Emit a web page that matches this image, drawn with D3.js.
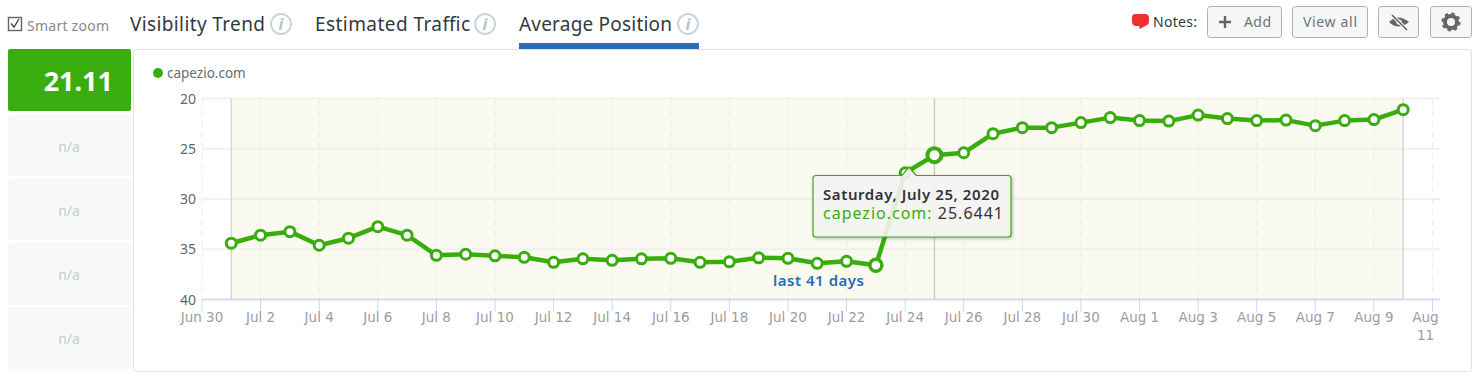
<!DOCTYPE html>
<html><head><meta charset="utf-8">
<script src="https://cdn.jsdelivr.net/npm/d3@7/dist/d3.min.js"></script>
<style>
html,body{margin:0;padding:0;background:#fff;overflow:hidden}
svg{display:block}
text{font-family:"Noto Sans",sans-serif}
.tick-label{font-family:"DejaVu Sans",sans-serif;font-size:13.5px;fill:#9c9ca2}
</style></head><body>
<svg id="c" width="1482" height="379"></svg>
<script>
const siteName = "capezio.com";
const startDate = "2020-07-01";
const positions = [34.4,33.6,33.25,34.6,33.9,32.75,33.6,35.6,35.5,35.65,35.8,36.3,35.95,36.1,35.95,35.9,36.3,36.25,35.85,35.9,36.4,36.2,36.6,27.4,25.6441,25.4,23.5,22.9,22.9,22.4,21.9,22.2,22.25,21.65,22.0,22.2,22.15,22.7,22.2,22.1,21.11];
const yTicks = [20,25,30,35,40];
const xTickDates = ["2020-06-30","2020-07-02","2020-07-04","2020-07-06","2020-07-08","2020-07-10","2020-07-12","2020-07-14","2020-07-16","2020-07-18","2020-07-20","2020-07-22","2020-07-24","2020-07-26","2020-07-28","2020-07-30","2020-08-01","2020-08-03","2020-08-05","2020-08-07","2020-08-09","2020-08-11"];
const tabs = ["Visibility Trend","Estimated Traffic","Average Position"];
const cardLabels = ["21.11","n/a","n/a","n/a","n/a"];

const parse = d3.utcParse("%Y-%m-%d");
const fmt = d3.utcFormat("%b %-d");
const start = parse(startDate);
const data = positions.map((v,i)=>({date:d3.utcDay.offset(start,i),v}));
const svg = d3.select("#c");
const green="#3aad0e";

const x = d3.scaleUtc().domain([parse("2020-06-30"),parse("2020-08-11")]).range([202,1432.5]);
const y = d3.scaleLinear().domain([20,40]).range([98.5,299.5]);

// header
svg.append("rect").attr("x",8.5).attr("y",17.5).attr("width",13).attr("height",13).attr("fill","#fff").attr("stroke","#666").attr("stroke-width",1.4);
svg.append("path").attr("d","M11 23.5l3 3.5 5-8").attr("fill","none").attr("stroke","#444").attr("stroke-width",1.4);
svg.append("text").attr("x",27).attr("y",31).attr("font-size",14).attr("fill","#8a8a8a").attr("textLength",82).text("Smart zoom");
const tabX=[130,315,519], infoX=[281,485,688];
tabs.forEach((t,i)=>{
  svg.append("text").attr("x",tabX[i]).attr("y",31).attr("font-size",19).attr("fill","#333a40").attr("textLength",[135,155,153][i]).text(t);
  svg.append("circle").attr("cx",infoX[i]).attr("cy",24).attr("r",10).attr("fill","#fff").attr("stroke","#ccd5da").attr("stroke-width",2);
  svg.append("text").attr("x",infoX[i]).attr("y",30).attr("text-anchor","middle").attr("font-size",16).attr("font-style","italic").attr("font-weight",700).attr("font-family","Liberation Serif").attr("fill","#b8c4ca").text("i");
});
svg.append("rect").attr("x",519).attr("y",43).attr("width",180).attr("height",6).attr("fill","#2a6ebb");

// notes & buttons
svg.append("path").attr("d","M1135 14h10q4 0 4 4v3q0 4-4 5l-5 3-1-3h-4q-3-1-3-5v-3q0-4 3-4z").attr("fill","#ee3030");
svg.append("text").attr("x",1153).attr("y",27).attr("font-size",14).attr("fill","#333a40").attr("textLength",44).text("Notes:");
[[1207,75],[1292,76],[1378,41],[1430,42]].forEach(([bx,w])=>{
  svg.append("rect").attr("x",bx+.5).attr("y",6.5).attr("width",w-1).attr("height",31).attr("rx",3).attr("fill","#f5f7f7").attr("stroke","#a9b2b6");
});
svg.append("path").attr("d","M1219 22h12M1225 16v12").attr("stroke","#666").attr("stroke-width",2.4);
svg.append("text").attr("x",1244).attr("y",27).attr("font-size",14).attr("fill","#6c7479").attr("textLength",27).text("Add");
svg.append("text").attr("x",1303).attr("y",27).attr("font-size",14).attr("fill","#6c7479").attr("textLength",54).text("View all");
svg.append("path").attr("d","M1389 22q9-9 20 0q-11 9-20 0z").attr("fill","#666");
svg.append("circle").attr("cx",1399).attr("cy",22).attr("r",2.6).attr("fill","#f5f7f7");
svg.append("path").attr("d","M1392 15l15 15").attr("stroke","#f5f7f7").attr("stroke-width",3.6);
svg.append("path").attr("d","M1392 15l15 15").attr("stroke","#666").attr("stroke-width",1.6);
svg.append("circle").attr("cx",1451).attr("cy",22).attr("r",6).attr("fill","none").attr("stroke","#666").attr("stroke-width",4);
svg.append("circle").attr("cx",1451).attr("cy",22).attr("r",8.4).attr("fill","none").attr("stroke","#666").attr("stroke-width",2.4).attr("stroke-dasharray","3.3 3.3");

// cards
const cardY=[[49,111],[115,176],[179,240],[243,305],[307,369]];
cardLabels.forEach((t,i)=>{
  const [a,b]=cardY[i];
  svg.append("rect").attr("x",8).attr("y",a).attr("width",123).attr("height",b-a).attr("rx",2).attr("fill",i?"#f6f8f9":"#3aad0e");
  svg.append("text").attr("x",i?69:113).attr("y",i?(a+b)/2+6:91)
    .attr("text-anchor",i?"middle":"end").attr("font-size",i?14:27).attr("font-weight",i?400:700)
    .attr("fill",i?"#c4ccd0":"#fff").text(t);
});

// panel
svg.append("rect").attr("x",133.5).attr("y",49.5).attr("width",1338).attr("height",322).attr("rx",3).attr("fill","#fff").attr("stroke","#dfe2e4");
svg.append("circle").attr("cx",158).attr("cy",73).attr("r",5).attr("fill",green);
svg.append("text").attr("x",167).attr("y",78).attr("font-size",13.5).attr("fill","#666c70").text(siteName);

// band
const bandL=x(data[0].date), bandR=x(data[data.length-1].date);
svg.append("rect").attr("x",bandL).attr("y",y(20)).attr("width",bandR-bandL).attr("height",y(40)-y(20)).attr("fill","#fafaf0");
svg.append("g").selectAll("line").data(yTicks.slice(0,4)).join("line")
  .attr("x1",202).attr("x2",1440).attr("y1",d=>y(d)).attr("y2",d=>y(d)).attr("stroke","#f1f1ec").attr("stroke-width",2);
svg.append("g").selectAll("line").data(xTickDates).join("line")
  .attr("x1",d=>x(parse(d))).attr("x2",d=>x(parse(d))).attr("y1",y(20)).attr("y2",y(40))
  .attr("stroke","#eeeeea").attr("stroke-width",1.2).attr("stroke-dasharray","6 5");
[bandL,bandR].forEach(px=>svg.append("line").attr("x1",px).attr("x2",px).attr("y1",y(20)).attr("y2",y(40)).attr("stroke","#d8d8d2").attr("stroke-width",1.5));
const hover=parse("2020-07-25");
svg.append("line").attr("x1",x(hover)).attr("x2",x(hover)).attr("y1",y(20)).attr("y2",y(40)).attr("stroke","#ccccc8").attr("stroke-width",1.5);

// axes
const xAxis=svg.append("g").attr("transform","translate(0,299.5)");
xAxis.append("line").attr("x1",202).attr("x2",1440).attr("stroke","#d5dcef").attr("stroke-width",2);
xAxis.selectAll("line.t").data(xTickDates).join("line").attr("class","t")
  .attr("x1",d=>x(parse(d))).attr("x2",d=>x(parse(d))).attr("y1",0).attr("y2",12).attr("stroke","#ccd6eb");
xAxis.selectAll("text").data(xTickDates).join("text").attr("class","tick-label").attr("text-anchor","middle")
  .attr("x",d=>x(parse(d))).attr("y",22.5)
  .each(function(d,i){
    const s=fmt(parse(d));
    if(i===xTickDates.length-1){
      const [m,n]=s.split(" ");
      const lx=x(parse(d))-7;
      d3.select(this).append("tspan").attr("x",lx).text(m);
      d3.select(this).append("tspan").attr("x",lx).attr("dy",18).text(n);
    } else d3.select(this).text(s);
  });
svg.append("g").selectAll("text").data(yTicks).join("text").attr("x",196).attr("y",d=>y(d)+5)
  .attr("text-anchor","end").attr("font-size",14).attr("font-family","DejaVu Sans").attr("fill","#666").text(d=>d);

// line
const line=d3.line().x(d=>x(d.date)).y(d=>y(d.v));
svg.append("path").datum(data).attr("d",line).attr("fill","none").attr("stroke",green).attr("stroke-width",4.5).attr("stroke-linejoin","round");
const key=d3.utcFormat("%Y-%m-%d");
const bigR={"2020-07-23":6,"2020-07-25":7};
const bigW={"2020-07-23":3.5,"2020-07-25":4};
svg.append("g").selectAll("circle").data(data).join("circle")
  .attr("cx",d=>x(d.date)).attr("cy",d=>y(d.v)).attr("r",d=>bigR[key(d.date)]||5)
  .attr("fill","#fff").attr("stroke",green).attr("stroke-width",d=>bigW[key(d.date)]||3);

svg.append("text").attr("x",773).attr("y",286).attr("font-size",15).attr("font-weight",600).attr("fill","#1d6fb8").attr("textLength",91).text("last 41 days");

// tooltip
const defs=svg.append("defs");
const f=defs.append("filter").attr("id","sh").attr("x","-10%").attr("y","-10%").attr("width","120%").attr("height","125%");
f.append("feDropShadow").attr("dx",1).attr("dy",1).attr("stdDeviation",1.5).attr("flood-color","#000").attr("flood-opacity",.3);
svg.append("path").attr("d","M816 175.5H902L909 167L916 175.5H1008q3 0 3 3V234q0 3-3 3H816q-3 0-3-3V178.5q0-3 3-3z")
  .attr("fill","#f7f7f7").attr("fill-opacity",.88).attr("stroke",green).attr("stroke-width",1.2).attr("filter","url(#sh)");
const tx=new Intl.DateTimeFormat("en-US",{weekday:"long",year:"numeric",month:"long",day:"numeric",timeZone:"UTC"}).format(hover);
svg.append("text").attr("x",823).attr("y",200).attr("font-size",15).attr("font-weight",600).attr("fill","#333").attr("textLength",176).text(tx);
const t2=svg.append("text").attr("x",823).attr("y",219).attr("font-size",16).attr("fill","#333").attr("textLength",180);
t2.append("tspan").attr("fill",green).text(siteName+": ");
t2.append("tspan").text(positions[24]);
</script></body></html>
